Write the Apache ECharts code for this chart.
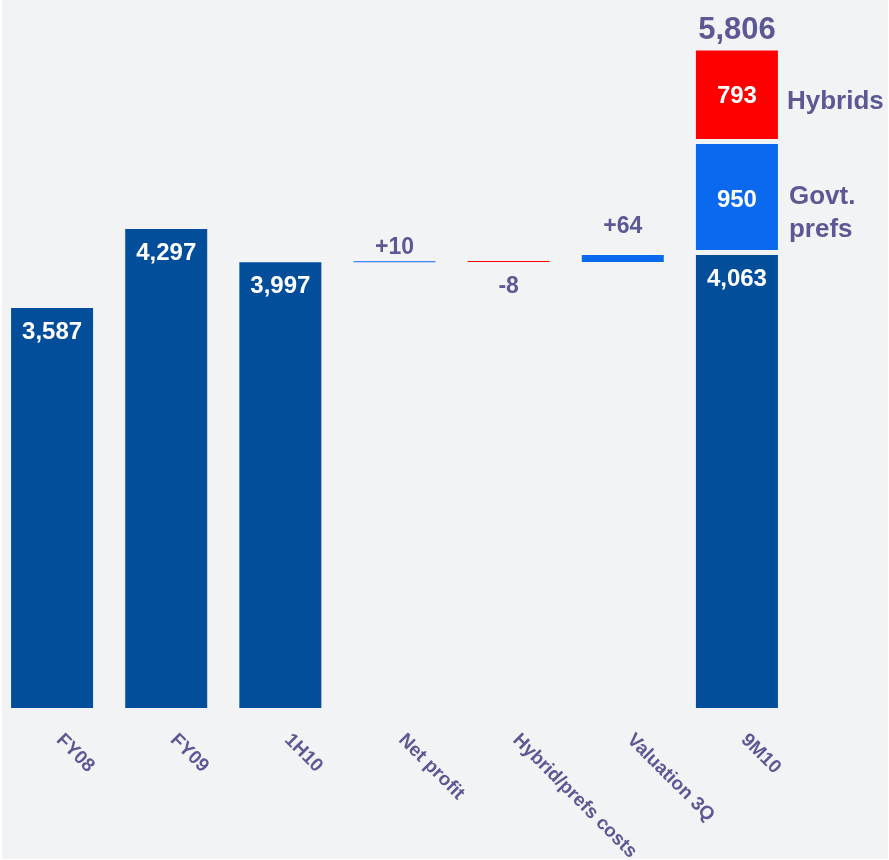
<!DOCTYPE html>
<html>
<head>
<meta charset="utf-8">
<script src="https://cdn.jsdelivr.net/npm/echarts@6/dist/echarts.min.js"></script>
<style>
  html, body { margin: 0; padding: 0; background: #ffffff; }
  #chart { position: absolute; left: 2px; top: 0; width: 886px; height: 859px; background: #f2f3f5; }
</style>
</head>
<body>
<div id="chart"></div>
<script>
// Capital bridge: FY08 to 9M10
const categories = ['FY08', 'FY09', '1H10', 'Net profit', 'Hybrid/prefs costs', 'Valuation 3Q', '9M10'];
const totals     = [3587, 4297, 3997, null, null, null, 4063];
const changes    = [null, null, null, 10, -8, 64, null];
const govtPrefs  = [null, null, null, null, null, null, 950];
const hybrids    = [null, null, null, null, null, null, 793];
const noteLabels = ['Govt.\nprefs', 'Hybrids'];

const DARK = '#024e9b', BRIGHT = '#0a69ef', RED = '#ff0000', TEXT = '#5c5894';
const FONT = '"Liberation Sans", Arial, sans-serif';
const SEG_GAP = 45; // visual separation between stacked segments (value units)

const fmt = v => Number(v).toLocaleString('en-US');

// waterfall geometry
const base = [], rise = [], fall = [];
let running = 0;
categories.forEach((c, i) => {
  if (totals[i] != null) {
    base.push(0); rise.push(null); fall.push(null);
    running = totals[i];
  } else {
    const d = changes[i];
    if (d >= 0) { base.push(running); rise.push(d); fall.push(null); }
    else { base.push(running + d); rise.push(null); fall.push(-d); }
    running += d;
  }
});

const last = categories.length - 1;
const onlyLast = v => categories.map((c, i) => (i === last ? v : null));
const grandTotal = totals[last] + govtPrefs[last] + hybrids[last];

const invisible = { color: 'rgba(0,0,0,0)' };
const common = { type: 'bar', barWidth: 82, barGap: '-100%', animation: false, silent: true };

const chart = echarts.init(document.getElementById('chart'), null, { renderer: 'canvas' });
chart.setOption({
  backgroundColor: '#f2f3f5',
  textStyle: { fontFamily: FONT },
  grid: { left: -7, width: 799, top: 39, bottom: 151, outerBoundsMode: 'none', containLabel: false },
  xAxis: {
    type: 'category',
    data: categories,
    axisLine: { show: false },
    axisTick: { show: false },
    axisLabel: {
      rotate: -45, interval: 0, margin: 22, padding: [0, 0, 0, 10],
      color: TEXT, fontSize: 19, fontWeight: 'bold', fontFamily: FONT
    }
  },
  yAxis: { type: 'value', min: 0, max: 6000, show: false, splitLine: { show: false } },
  series: [
    Object.assign({}, common, { name: 'base', stack: 'main', data: base, itemStyle: invisible }),
    Object.assign({}, common, {
      name: 'Total', stack: 'main', data: totals, itemStyle: { color: DARK },
      label: { show: true, position: 'insideTop', distance: 12, color: '#ffffff',
               fontSize: 24, fontWeight: 'bold', fontFamily: FONT, formatter: p => fmt(p.value) }
    }),
    Object.assign({}, common, {
      name: 'Increase', stack: 'main', itemStyle: { color: BRIGHT }, barMinHeight: 1,
      data: rise.map(v => v == null ? null : { value: v, label: { distance: v > 30 ? 17 : 2 } }),
      label: { show: true, position: 'top', color: TEXT, fontSize: 23, fontWeight: 'bold',
               fontFamily: FONT, formatter: p => '+' + fmt(p.value) }
    }),
    Object.assign({}, common, {
      name: 'Decrease', stack: 'main', data: fall, itemStyle: { color: RED }, barMinHeight: 1,
      label: { show: true, position: 'bottom', distance: 13, color: TEXT, fontSize: 23,
               fontWeight: 'bold', fontFamily: FONT, formatter: p => '-' + fmt(p.value) }
    }),
    Object.assign({}, common, { name: 'gap1', stack: 'main', data: onlyLast(SEG_GAP), itemStyle: invisible }),
    Object.assign({}, common, {
      name: 'Govt. prefs', stack: 'main', data: govtPrefs, itemStyle: { color: BRIGHT },
      label: { show: true, position: 'inside', offset: [0, 3], color: '#ffffff', fontSize: 24,
               fontWeight: 'bold', fontFamily: FONT, formatter: p => fmt(p.value) }
    }),
    Object.assign({}, common, { name: 'gap2', stack: 'main', data: onlyLast(SEG_GAP), itemStyle: invisible }),
    Object.assign({}, common, {
      name: 'Hybrids', stack: 'main', data: hybrids, itemStyle: { color: RED },
      label: { show: true, position: 'inside', offset: [0, 2], color: '#ffffff', fontSize: 24,
               fontWeight: 'bold', fontFamily: FONT, formatter: p => fmt(p.value) }
    }),
    Object.assign({}, common, {
      name: 'sum', stack: 'main', data: onlyLast(0), itemStyle: invisible,
      label: { show: true, position: 'top', distance: 5, color: TEXT, fontSize: 31,
               fontWeight: 'bold', fontFamily: FONT, formatter: () => fmt(grandTotal) }
    }),
    // side notes overlaying the 9M10 column
    Object.assign({}, common, { name: 'noteBase', stack: 'notes', data: onlyLast(totals[last] + SEG_GAP), itemStyle: invisible }),
    Object.assign({}, common, {
      name: 'noteGovt', stack: 'notes', data: govtPrefs, itemStyle: invisible,
      label: { show: true, position: 'right', distance: 11, offset: [0, 16], align: 'left',
               color: TEXT, fontSize: 26, lineHeight: 33, fontWeight: 'bold', fontFamily: FONT,
               formatter: () => noteLabels[0] }
    }),
    Object.assign({}, common, { name: 'noteGap', stack: 'notes', data: onlyLast(SEG_GAP), itemStyle: invisible }),
    Object.assign({}, common, {
      name: 'noteHyb', stack: 'notes', data: hybrids, itemStyle: invisible,
      label: { show: true, position: 'right', distance: 9, offset: [0, 7], align: 'left',
               color: TEXT, fontSize: 26, fontWeight: 'bold', fontFamily: FONT,
               formatter: () => noteLabels[1] }
    })
  ]
});
</script>
</body>
</html>
